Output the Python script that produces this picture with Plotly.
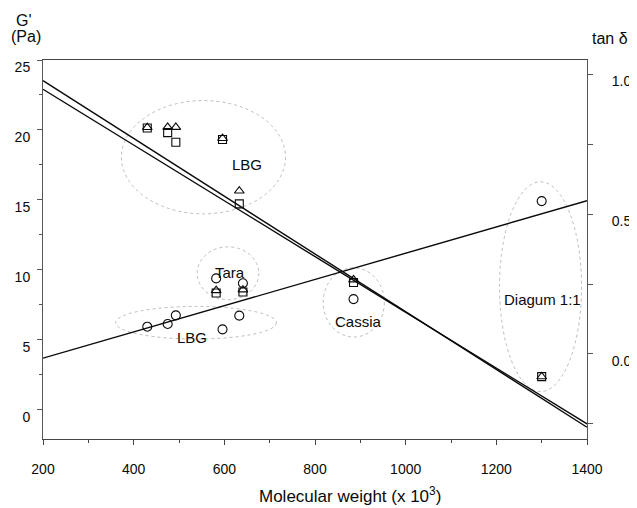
import plotly.graph_objects as go

# ---- data ----
mol_weight = [430, 475, 493, 596, 633, 582, 641, 885, 1300]
gprime_tri = [20.18, 20.19, 20.19, 19.40, 15.64, 8.52, 8.57, 9.29, 2.36]
gprime_sq = [20.14, 19.81, 19.12, 19.32, 14.71, 8.34, 8.41, 9.09, 2.36]
tan_delta = [0.0975, 0.107, 0.138, 0.088, 0.137, 0.270, 0.2525, 0.196, 0.546]

fit_x = [200, 1400]
fit_gprime_a = [23.52, -1.26]
fit_gprime_b = [22.91, -1.02]
fit_tan = [-0.015, 0.5475]

group_labels = ["LBG", "Tara", "LBG", "Cassia", "Diagum 1:1"]
group_label_x = [650, 613, 529, 896, 1301]
group_label_y = [17.5, 9.8, 5.16, 6.31, 7.86]

# ellipse extents (x0, x1, y0, y1) in data units
group_ellipses = [
    (373, 735, 14.0, 22.1),
    (540, 676, 7.86, 11.64),
    (360, 715, 5.05, 7.38),
    (818, 953, 5.19, 10.14),
    (1207, 1388, 1.29, 16.29),
]

FONT = "Liberation Sans, Arial, sans-serif"
INK = "#0a0a0a"

fig = go.Figure()

fig.add_trace(go.Scatter(x=fit_x, y=fit_gprime_a, mode="lines",
                         line=dict(color=INK, width=1.4), showlegend=False))
fig.add_trace(go.Scatter(x=fit_x, y=fit_gprime_b, mode="lines",
                         line=dict(color=INK, width=1.4), showlegend=False))
fig.add_trace(go.Scatter(x=fit_x, y=fit_tan, mode="lines", yaxis="y2",
                         line=dict(color=INK, width=1.4), showlegend=False))

fig.add_trace(go.Scatter(x=mol_weight, y=gprime_sq, mode="markers",
                         marker=dict(symbol="square-open", size=8, color=INK,
                                     line=dict(width=1.1, color=INK)),
                         showlegend=False))
fig.add_trace(go.Scatter(x=mol_weight, y=gprime_tri, mode="markers",
                         marker=dict(symbol="triangle-up-open", size=8.5, color=INK,
                                     line=dict(width=1.1, color=INK)),
                         showlegend=False))
fig.add_trace(go.Scatter(x=mol_weight, y=tan_delta, mode="markers", yaxis="y2",
                         marker=dict(symbol="circle-open", size=9, color=INK,
                                     line=dict(width=1.1, color=INK)),
                         showlegend=False))

for (x0, x1, y0, y1) in group_ellipses:
    fig.add_shape(type="circle", xref="x", yref="y", x0=x0, x1=x1, y0=y0, y1=y1,
                  line=dict(color="#bdbdbd", width=1, dash="dot"), layer="below")

for t, x, y in zip(group_labels, group_label_x, group_label_y):
    fig.add_annotation(x=x, y=y, xref="x", yref="y", text=t, showarrow=False,
                       xanchor="center", yanchor="middle",
                       font=dict(family=FONT, size=15, color=INK))

# axis titles
title_font = dict(family=FONT, size=16, color=INK)
fig.add_annotation(xref="paper", yref="paper", x=-0.035, y=1.105, text="G'",
                   showarrow=False, xanchor="center", yanchor="middle", font=title_font)
fig.add_annotation(xref="paper", yref="paper", x=-0.031, y=1.063, text="(Pa)",
                   showarrow=False, xanchor="center", yanchor="middle", font=title_font)
fig.add_annotation(xref="paper", yref="paper", x=1.042, y=1.058, text="tan δ",
                   showarrow=False, xanchor="center", yanchor="middle", font=title_font)
fig.add_annotation(xref="paper", yref="paper", x=0.564, y=-0.149,
                   text="Molecular weight (x 10<sup>3</sup>)", showarrow=False,
                   xanchor="center", yanchor="middle",
                   font=dict(family=FONT, size=17, color=INK))

# the page body adds an 8px offset; margins compensate so the plot sits where the reference has it
fig.update_layout(
    width=637, height=508,
    margin=dict(l=35, r=58, t=52, b=77, autoexpand=False),
    paper_bgcolor="white", plot_bgcolor="white",
    font=dict(family=FONT, size=14, color=INK),
    xaxis=dict(range=[200, 1400], tickvals=[200, 400, 600, 800, 1000, 1200, 1400],
               showgrid=False, zeroline=False, showline=True, linecolor="#444",
               linewidth=1, mirror=True, ticks="outside", ticklen=5, tickcolor="#444",
               ticklabelstandoff=12, automargin=False,
               minor=dict(dtick=100, tick0=200, ticks="outside", ticklen=3, tickcolor="#444"),
               tickfont=dict(family=FONT, size=14, color=INK)),
    yaxis=dict(range=[-2.1, 25], tickvals=[0, 5, 10, 15, 20, 25],
               showgrid=False, zeroline=False, showline=True, linecolor="#555",
               linewidth=1, ticks="outside", ticklen=5, tickcolor="#555",
               ticklabelstandoff=4, ticklabelshift=7, automargin=False,
               minor=dict(dtick=2.5, tick0=0, ticks="outside", ticklen=3, tickcolor="#555"),
               tickfont=dict(family=FONT, size=14, color=INK)),
    yaxis2=dict(range=[-0.3036, 1.05], overlaying="y", side="right",
                tickvals=[0, 0.5, 1.0], ticktext=["0.0", "0.5", "1.0"],
                showgrid=False, zeroline=False, showline=True, linecolor="#555",
                linewidth=1, ticks="outside", ticklen=5, tickcolor="#555",
                ticklabelstandoff=16, ticklabelshift=7, automargin=False,
                minor=dict(dtick=0.25, tick0=0, ticks="outside", ticklen=5, tickcolor="#555"),
                tickfont=dict(family=FONT, size=14, color=INK)),
)

fig.write_html("out.html")
